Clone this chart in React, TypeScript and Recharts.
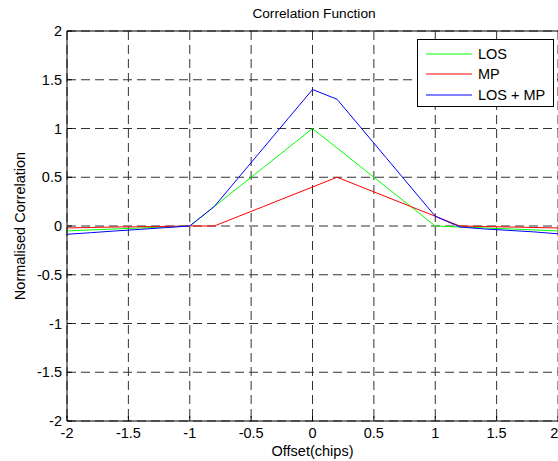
import { LineChart, Line, XAxis, YAxis, CartesianGrid, ReferenceLine, Legend } from 'recharts'

const offsets = [-2, -1.8, -1.6, -1.4, -1.2, -1, -0.8, -0.6, -0.4, -0.2, 0, 0.2, 0.4, 0.6, 0.8, 1, 1.2, 1.4, 1.6, 1.8, 2]
const los = [-0.05, -0.04, -0.03, -0.02, -0.01, 0, 0.2, 0.4, 0.6, 0.8, 1, 0.8, 0.6, 0.4, 0.2, 0, -0.01, -0.02, -0.03, -0.04, -0.05]
const mp = [-0.02, -0.015, -0.01, -0.008, -0.004, 0, 0, 0.1, 0.2, 0.3, 0.4, 0.5, 0.4, 0.3, 0.2, 0.1, 0, -0.005, -0.01, -0.015, -0.02]
const losMp = [-0.085, -0.068, -0.05, -0.034, -0.017, 0, 0.2, 0.5, 0.8, 1.1, 1.4, 1.3, 1.0, 0.7, 0.4, 0.1, -0.01, -0.03, -0.045, -0.06, -0.08]

const seriesNames = ['LOS', 'MP', 'LOS + MP']
const xTicks = [-2, -1.5, -1, -0.5, 0, 0.5, 1, 1.5, 2]
const yTicks = [-2, -1.5, -1, -0.5, 0, 0.5, 1, 1.5, 2]

const data = offsets.map((x, i) => ({ x, los: los[i], mp: mp[i], losMp: losMp[i] }))

const FONT = '"Liberation Sans", Arial, Helvetica, sans-serif'

const renderLegend = (props: any) => {
  const payload = [...(props.payload || [])].sort(
    (a: any, b: any) => seriesNames.indexOf(a.value) - seriesNames.indexOf(b.value)
  )
  return (
    <div
      style={{
        width: 135,
        height: 66,
        border: '1px solid #000',
        background: '#fff',
        position: 'relative',
        fontFamily: FONT,
        fontSize: 14.5,
        color: '#000',
      }}
    >
      {payload.map((entry: any, i: number) => (
        <div key={entry.value} style={{ position: 'absolute', left: 8, top: 4 + i * 20.3, height: 20, display: 'flex', alignItems: 'center' }}>
          <svg width={47} height={4} style={{ display: 'block' }}>
            <line x1={0} y1={2} x2={46} y2={2} stroke={entry.color} strokeWidth={1} />
          </svg>
          <span style={{ marginLeft: 5, whiteSpace: 'nowrap' }}>{entry.value}</span>
        </div>
      ))}
    </div>
  )
}

export default function App() {
  return (
    <div style={{ position: 'absolute', left: 0, top: 0, width: 558, height: 461, background: '#fff', overflow: 'hidden' }}>
      <div
        style={{
          position: 'absolute',
          left: 214,
          width: 200,
          top: 6,
          textAlign: 'center',
          fontFamily: FONT,
          fontSize: 13.7,
          color: '#000',
        }}
      >
        Correlation Function
      </div>
      <LineChart width={558} height={461} data={data} margin={{ top: 31, right: 0, bottom: 0, left: 0 }} style={{ fontFamily: FONT }}>
        <CartesianGrid stroke="#333" strokeDasharray="9 5" strokeWidth={1} />
        <XAxis
          dataKey="x"
          type="number"
          domain={[-2, 2]}
          ticks={xTicks}
          height={40}
          stroke="#000"
          tickSize={-5}
          tickMargin={12}
          tick={{ fill: '#000', fontSize: 14.5 }}
          allowDataOverflow
          label={{
            content: (p: any) => {
              const vb = p.viewBox || { x: 67, width: 491, y: 421 }
              return (
                <text x={vb.x + vb.width / 2} y={456} textAnchor="middle" fontSize={14.5} fill="#000" fontFamily={FONT}>
                  Offset(chips)
                </text>
              )
            },
          }}
        />
        <YAxis
          type="number"
          domain={[-2, 2]}
          ticks={yTicks}
          width={67}
          stroke="#000"
          tickSize={-5}
          tickMargin={10}
          tick={{ fill: '#000', fontSize: 14.5 }}
          allowDataOverflow
          label={{
            content: (p: any) => {
              const vb = p.viewBox || { y: 31, height: 390 }
              const cy = vb.y + vb.height / 2
              return (
                <text
                  x={20}
                  y={cy}
                  transform={`rotate(-90 20 ${cy})`}
                  textAnchor="middle"
                  dominantBaseline="central"
                  fontSize={14.5}
                  fill="#000"
                  fontFamily={FONT}
                >
                  Normalised Correlation
                </text>
              )
            },
          }}
        />
        <ReferenceLine y={2} stroke="#000" strokeWidth={1} />
        <Line type="linear" dataKey="los" name="LOS" stroke="#00ff00" strokeWidth={1} dot={false} isAnimationActive={false} />
        <Line type="linear" dataKey="mp" name="MP" stroke="#ff0000" strokeWidth={1} dot={false} isAnimationActive={false} />
        <Line type="linear" dataKey="losMp" name="LOS + MP" stroke="#0000ff" strokeWidth={1} dot={false} isAnimationActive={false} />
        <Legend
          layout="horizontal"
          verticalAlign="middle"
          align="center"
          content={renderLegend}
          wrapperStyle={{ position: 'absolute', left: 417, top: 39, width: 137, height: 68 }}
        />
      </LineChart>
    </div>
  )
}
